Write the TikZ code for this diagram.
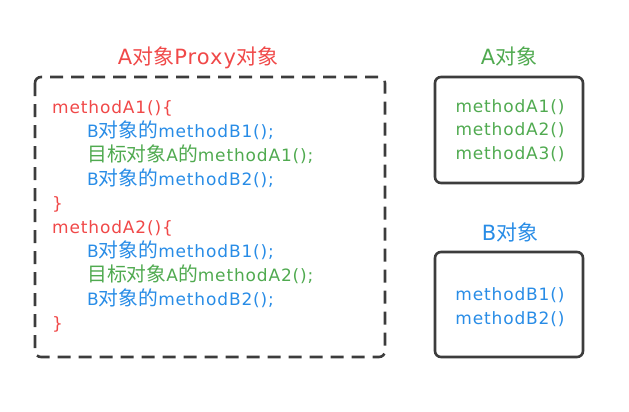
\documentclass[tikz,border=0pt]{standalone}
\usepackage{fontspec}
\setmainfont{DejaVu Sans}[LetterSpace=5]
\newfontfamily\cjkfont{Noto Sans CJK SC}
\newcommand{\cj}[1]{{\fontsize{19.8}{19.8}\cjkfont #1}}
\newcommand{\cjt}[1]{{\fontsize{21}{21}\cjkfont #1}}
\definecolor{cred}{RGB}{240,72,72}
\definecolor{cblue}{RGB}{40,140,230}
\definecolor{cgreen}{RGB}{80,170,80}
\definecolor{cgray}{RGB}{60,60,60}
\tikzset{
  box/.style={draw=cgray,line width=2.6pt,rounded corners=6pt},
  dbox/.style={box,dash pattern=on 13pt off 8pt},
  code/.style={font=\fontsize{17}{17}\selectfont,inner sep=0pt},
  ttl/.style={font=\fontsize{21}{21}\selectfont,inner sep=0pt,anchor=base},
}
\begin{document}
\begin{tikzpicture}[x=1pt,y=-1pt]
\useasboundingbox (0,0) rectangle (629,412);
\draw[dbox] (35,77) rectangle (385,357);
\draw[box] (435,77) rectangle (583,183);
\draw[box] (435,252) rectangle (583,357);
\node[ttl,text=cred] (tp) at (198,65) {A\cjt{对象}Proxy\cjt{对象}};
\node[ttl,text=cgreen] (ta) at (509,65) {A\cjt{对象}};
\node[ttl,text=cblue] (tb) at (510,240) {B\cjt{对象}};
% proxy code
\begin{scope}[every node/.style={code,anchor=base west}]
\node[text=cred] (l1) at (52,113) {methodA1()\{};
\node[text=cblue] (l2) at (87,137.1) {B\cj{对象的}methodB1();};
\node[text=cgreen] (l3) at (87,161.2) {\cj{目标对象}A\cj{的}methodA1();};
\node[text=cblue] (l4) at (87,185.3) {B\cj{对象的}methodB2();};
\node[text=cred] (l5) at (52,209.4) {\}};
\node[text=cred] (l6) at (52,233.5) {methodA2()\{};
\node[text=cblue] (l7) at (87,257.6) {B\cj{对象的}methodB1();};
\node[text=cgreen] (l8) at (87,281.7) {\cj{目标对象}A\cj{的}methodA2();};
\node[text=cblue] (l9) at (87,305.8) {B\cj{对象的}methodB2();};
\node[text=cred] (l10) at (52,329.9) {\}};
\end{scope}
% A and B
\begin{scope}[every node/.style={code,anchor=base}]
\node[text=cgreen] (a1) at (510,112) {methodA1()};
\node[text=cgreen] (a2) at (510,135.5) {methodA2()};
\node[text=cgreen] (a3) at (510,159) {methodA3()};
\node[text=cblue] (b1) at (510,300) {methodB1()};
\node[text=cblue] (b2) at (510,324) {methodB2()};
\end{scope}
\end{tikzpicture}
\end{document}
